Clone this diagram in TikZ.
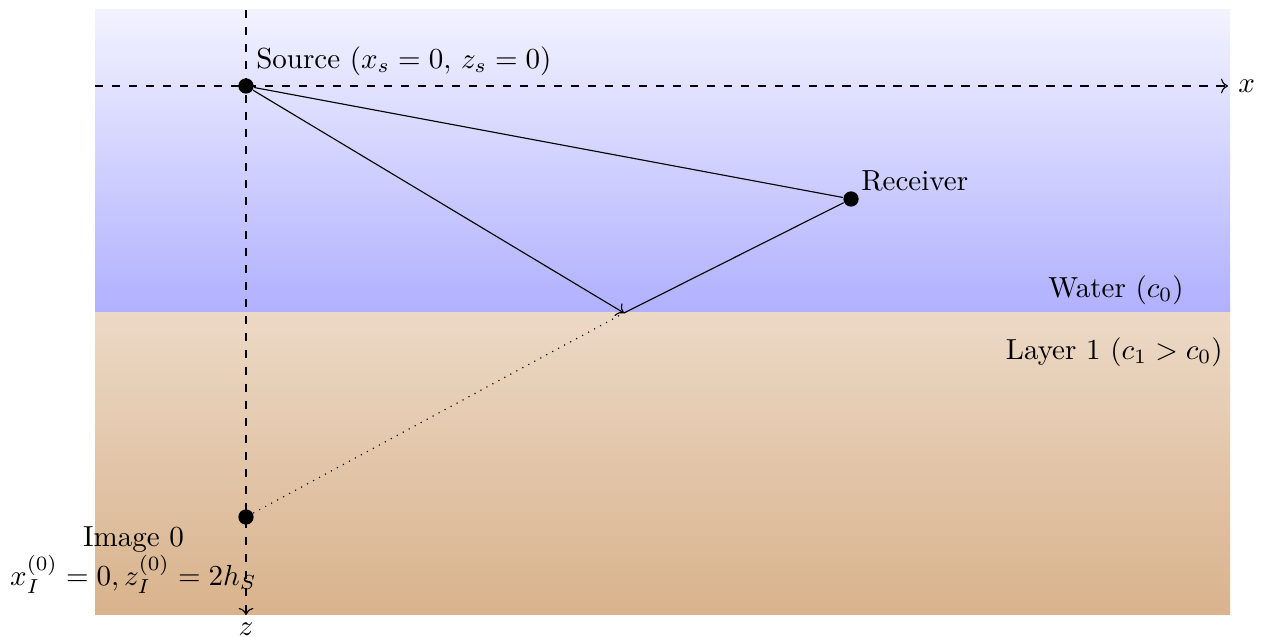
\documentclass[tikz,border=0pt]{standalone}
\usetikzlibrary{arrows.meta}
\begin{document}
\begin{tikzpicture}[x=0.3532pt,y=-0.3532pt,
  dot/.style={circle,fill=black,inner sep=0pt,minimum size=5.4pt},
  axis/.style={dashed,->},
  lbl/.style={scale=1.025},
  ray/.style={thin}]
\useasboundingbox (0,0) rectangle (1271,637);
\shade[top color=blue!5,bottom color=blue!31] (95,10) rectangle (1230,313);
\shade[top color=brown!30,bottom color=brown!60] (95,313) rectangle (1230,615);
\coordinate (xs) at (95,86);
\coordinate (xe) at (1228,86);
\coordinate (zs) at (246,10);
\coordinate (ze) at (246,615);
\draw[axis] (xs) -- (xe) node[right,lbl] (xl) {$x$};
\draw[axis] (zs) -- (ze) node[below,inner sep=2.6pt,lbl] (zl) {$z$};
\node[dot] (src) at (246,86) {};
\node[dot] (rcv) at (851,199) {};
\node[dot] (img) at (246,517) {};
\coordinate (refl) at (624,313);
\draw[ray] (src) -- (rcv);
\draw[ray,->] (src) -- (refl);
\draw[ray] (refl) -- (rcv);
\draw[dotted] (img) -- (refl);
\node[anchor=south west,lbl] (srcl) at (246,86) {Source ($x_s=0,\, z_s=0$)};
\node[anchor=west,lbl] (rcvl) at (851,181) {Receiver};
\node[anchor=east,lbl] (wl) at (1194,290) {Water ($c_0$)};
\node[anchor=east,lbl] (ll) at (1233,352) {Layer 1 ($c_1 > c_0$)};
\node[align=center,lbl] (il) at (133.5,560) {Image 0\\ $x_I^{(0)}=0, z_I^{(0)}=2h_S$};
\end{tikzpicture}
\end{document}
